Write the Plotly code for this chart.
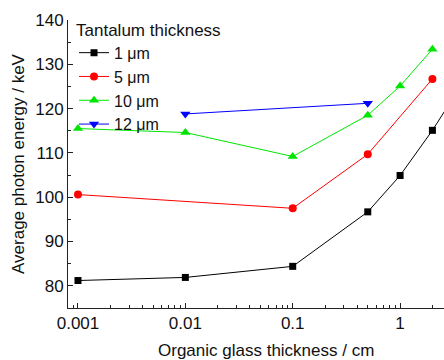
import plotly.graph_objects as go

# Organic glass thickness (cm) and average photon energy (keV) per tantalum thickness
x_1um = [0.001, 0.01, 0.1, 0.5, 1, 2, 5]
y_1um = [81.2, 81.9, 84.4, 96.7, 104.9, 115.1, 130.2]

x_5um = [0.001, 0.1, 0.5, 2]
y_5um = [100.6, 97.5, 109.7, 126.7]

x_10um = [0.001, 0.01, 0.1, 0.5, 1, 2]
y_10um = [115.5, 114.6, 109.2, 118.5, 125.1, 133.4]

x_12um = [0.01, 0.5]
y_12um = [118.8, 121.2]

series = [
    ("1 \u03bcm", x_1um, y_1um, "#000000", "square", 7),
    ("5 \u03bcm", x_5um, y_5um, "#ff0000", "circle", 8),
    ("10 \u03bcm", x_10um, y_10um, "#00e600", "triangle-up", 9),
    ("12 \u03bcm", x_12um, y_12um, "#0000ff", "triangle-down", 9),
]

FONT = "Liberation Sans, Arial, sans-serif"
FS = 17

fig = go.Figure()
for name, xs, ys, color, symbol, size in series:
    fig.add_trace(go.Scatter(
        x=xs, y=ys, name=name, mode="lines+markers",
        line=dict(color=color, width=1),
        marker=dict(symbol=symbol, size=size, color=color),
    ))

fig.update_layout(
    width=444, height=360,
    margin=dict(l=68, r=0, t=20, b=52),
    paper_bgcolor="white", plot_bgcolor="white",
    font=dict(family=FONT, size=FS, color="#111111"),
    showlegend=True,
    legend=dict(
        title=dict(text="Tantalum thickness", font=dict(size=FS)),
        x=0.016, y=1.022, xanchor="left", yanchor="top",
        bgcolor="rgba(0,0,0,0)", font=dict(size=16),
        tracegroupgap=0, itemwidth=30,
    ),
    xaxis=dict(
        type="log", range=[-3.093, 0.409],
        showline=True, linecolor="#222222", linewidth=1,
        ticks="inside", ticklen=5, tickcolor="#222222",
        tickvals=[0.001, 0.01, 0.1, 1],
        ticktext=["0.001", "0.01", "0.1", "1"],
        minor=dict(ticks="inside", ticklen=3, tickcolor="#222222",
                   tickvals=[m * 10 ** e for e in range(-4, 1) for m in range(2, 10)]),
        showgrid=False, zeroline=False, mirror=False,
        tickfont=dict(size=FS),
    ),
    yaxis=dict(
        range=[75, 140],
        showline=True, linecolor="#222222", linewidth=1,
        ticks="inside", ticklen=5, tickcolor="#222222",
        tickvals=[80, 90, 100, 110, 120, 130, 140],
        minor=dict(ticks="inside", ticklen=3, tickcolor="#222222", dtick=5),
        showgrid=False, zeroline=False, mirror=False,
        title=dict(text="Average photon energy / keV", font=dict(size=FS), standoff=6),
        tickfont=dict(size=FS),
    ),
    annotations=[dict(
        text="Organic glass thickness / cm", xref="paper", yref="paper",
        x=(266 - 68) / 376, y=-(350 - 308) / 288, xanchor="center", yanchor="middle",
        showarrow=False, font=dict(size=FS),
    )],
)

fig.write_html("out.html")
